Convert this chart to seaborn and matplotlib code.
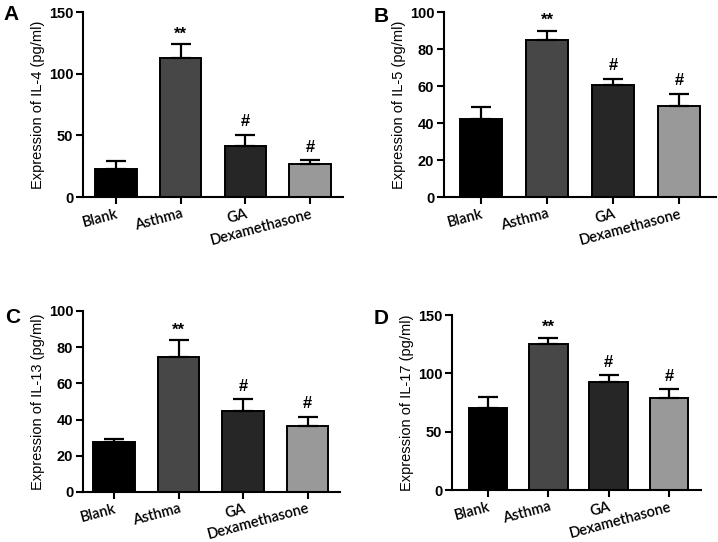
import numpy as np
import pandas as pd
import seaborn as sns
import matplotlib.pyplot as plt

sns.set_style("ticks")
plt.rcParams['font.family'] = ['Liberation Sans', 'DejaVu Sans']
plt.rcParams['text.color'] = 'black'
plt.rcParams['axes.labelcolor'] = 'black'
plt.rcParams['xtick.color'] = 'black'
plt.rcParams['ytick.color'] = 'black'
plt.rcParams['axes.edgecolor'] = 'black'

# dades llegides de la figura
groups = ["Blank", "Asthma", "GA", "Dexamethasone"]
colors = ["#000000", "#474747", "#262626", "#999999"]

il4_mean = [22.5, 112.7, 41.0, 26.8]
il4_err = [7.0, 11.3, 9.5, 2.9]
il5_mean = [42.2, 85.1, 60.3, 49.2]
il5_err = [6.3, 4.9, 3.6, 6.6]
il13_mean = [27.4, 74.4, 44.7, 36.4]
il13_err = [2.0, 9.4, 6.6, 5.1]
il17_mean = [70.7, 124.9, 92.8, 78.8]
il17_err = [8.6, 5.5, 5.5, 7.7]

marks = ["", "**", "#", "#"]

panels = [
    ("A", "IL-4", il4_mean, il4_err, 150, [0, 50, 100, 150], [0.1156, 0.6365, 0.3621, 0.3413], (-0.51, 3.51)),
    ("B", "IL-5", il5_mean, il5_err, 100, [0, 20, 40, 60, 80, 100], [0.6184, 0.6365, 0.3788, 0.3413], (-0.56, 3.56)),
    ("C", "IL-13", il13_mean, il13_err, 100, [0, 20, 40, 60, 80, 100], [0.1156, 0.0923, 0.3579, 0.3339], (-0.48, 3.50)),
    ("D", "IL-17", il17_mean, il17_err, 150, [0, 50, 100, 150], [0.6295, 0.0959, 0.3468, 0.3229], (-0.60, 3.53)),
]
letter_pos = [(0.005, 0.99), (0.521, 0.988), (0.007, 0.432), (0.520, 0.430)]

fig = plt.figure(figsize=(7.18, 5.42), dpi=100)

for (letter, cyt, mean, err, ymax, yticks, rect, xlim), lp in zip(panels, letter_pos):
    ax = fig.add_axes(rect)
    df = pd.DataFrame({"grup": groups, "valor": mean})
    sns.barplot(data=df, x="grup", y="valor", hue="grup", palette=colors,
                width=0.64, edgecolor="black", linewidth=1.4, legend=False, ax=ax)
    x = np.arange(len(groups))
    ax.errorbar(x, mean, yerr=[np.zeros(len(err)), err], fmt="none",
                ecolor="black", elinewidth=1.6, capsize=7, capthick=1.6, zorder=1)
    for xi, m, e, s in zip(x, mean, err, marks):
        if s:
            ax.annotate(s, (xi, m + e), xytext=(0, 2 if s == "**" else 4),
                        textcoords="offset points", ha="center", va="bottom",
                        fontsize=12, fontweight="bold")
    ax.set_xlim(*xlim)
    ax.set_ylim(0, ymax)
    ax.set_yticks(yticks)
    ax.set_xlabel("")
    ax.set_ylabel(f"Expression of {cyt} (pg/ml)", fontsize=10.5, labelpad=3)
    ax.set_xticks(x)
    ax.set_xticklabels(groups, rotation=15, ha="right", rotation_mode="anchor",
                       fontsize=10.5, fontweight="semibold", family=["Lato", "DejaVu Sans"])
    for lab in ax.get_yticklabels():
        lab.set_fontweight("bold")
        lab.set_fontsize(10.5)
    ax.tick_params(axis="y", direction="out", width=1.5, length=5, pad=2, color="black")
    ax.tick_params(axis="x", direction="out", width=1.5, length=5, pad=2, color="black")
    for sp in ["left", "bottom"]:
        ax.spines[sp].set_linewidth(1.5)
    sns.despine(ax=ax)
    fig.text(lp[0], lp[1], letter, fontsize=15, fontweight="bold", va="top")

fig.savefig("out.png", dpi=100)
